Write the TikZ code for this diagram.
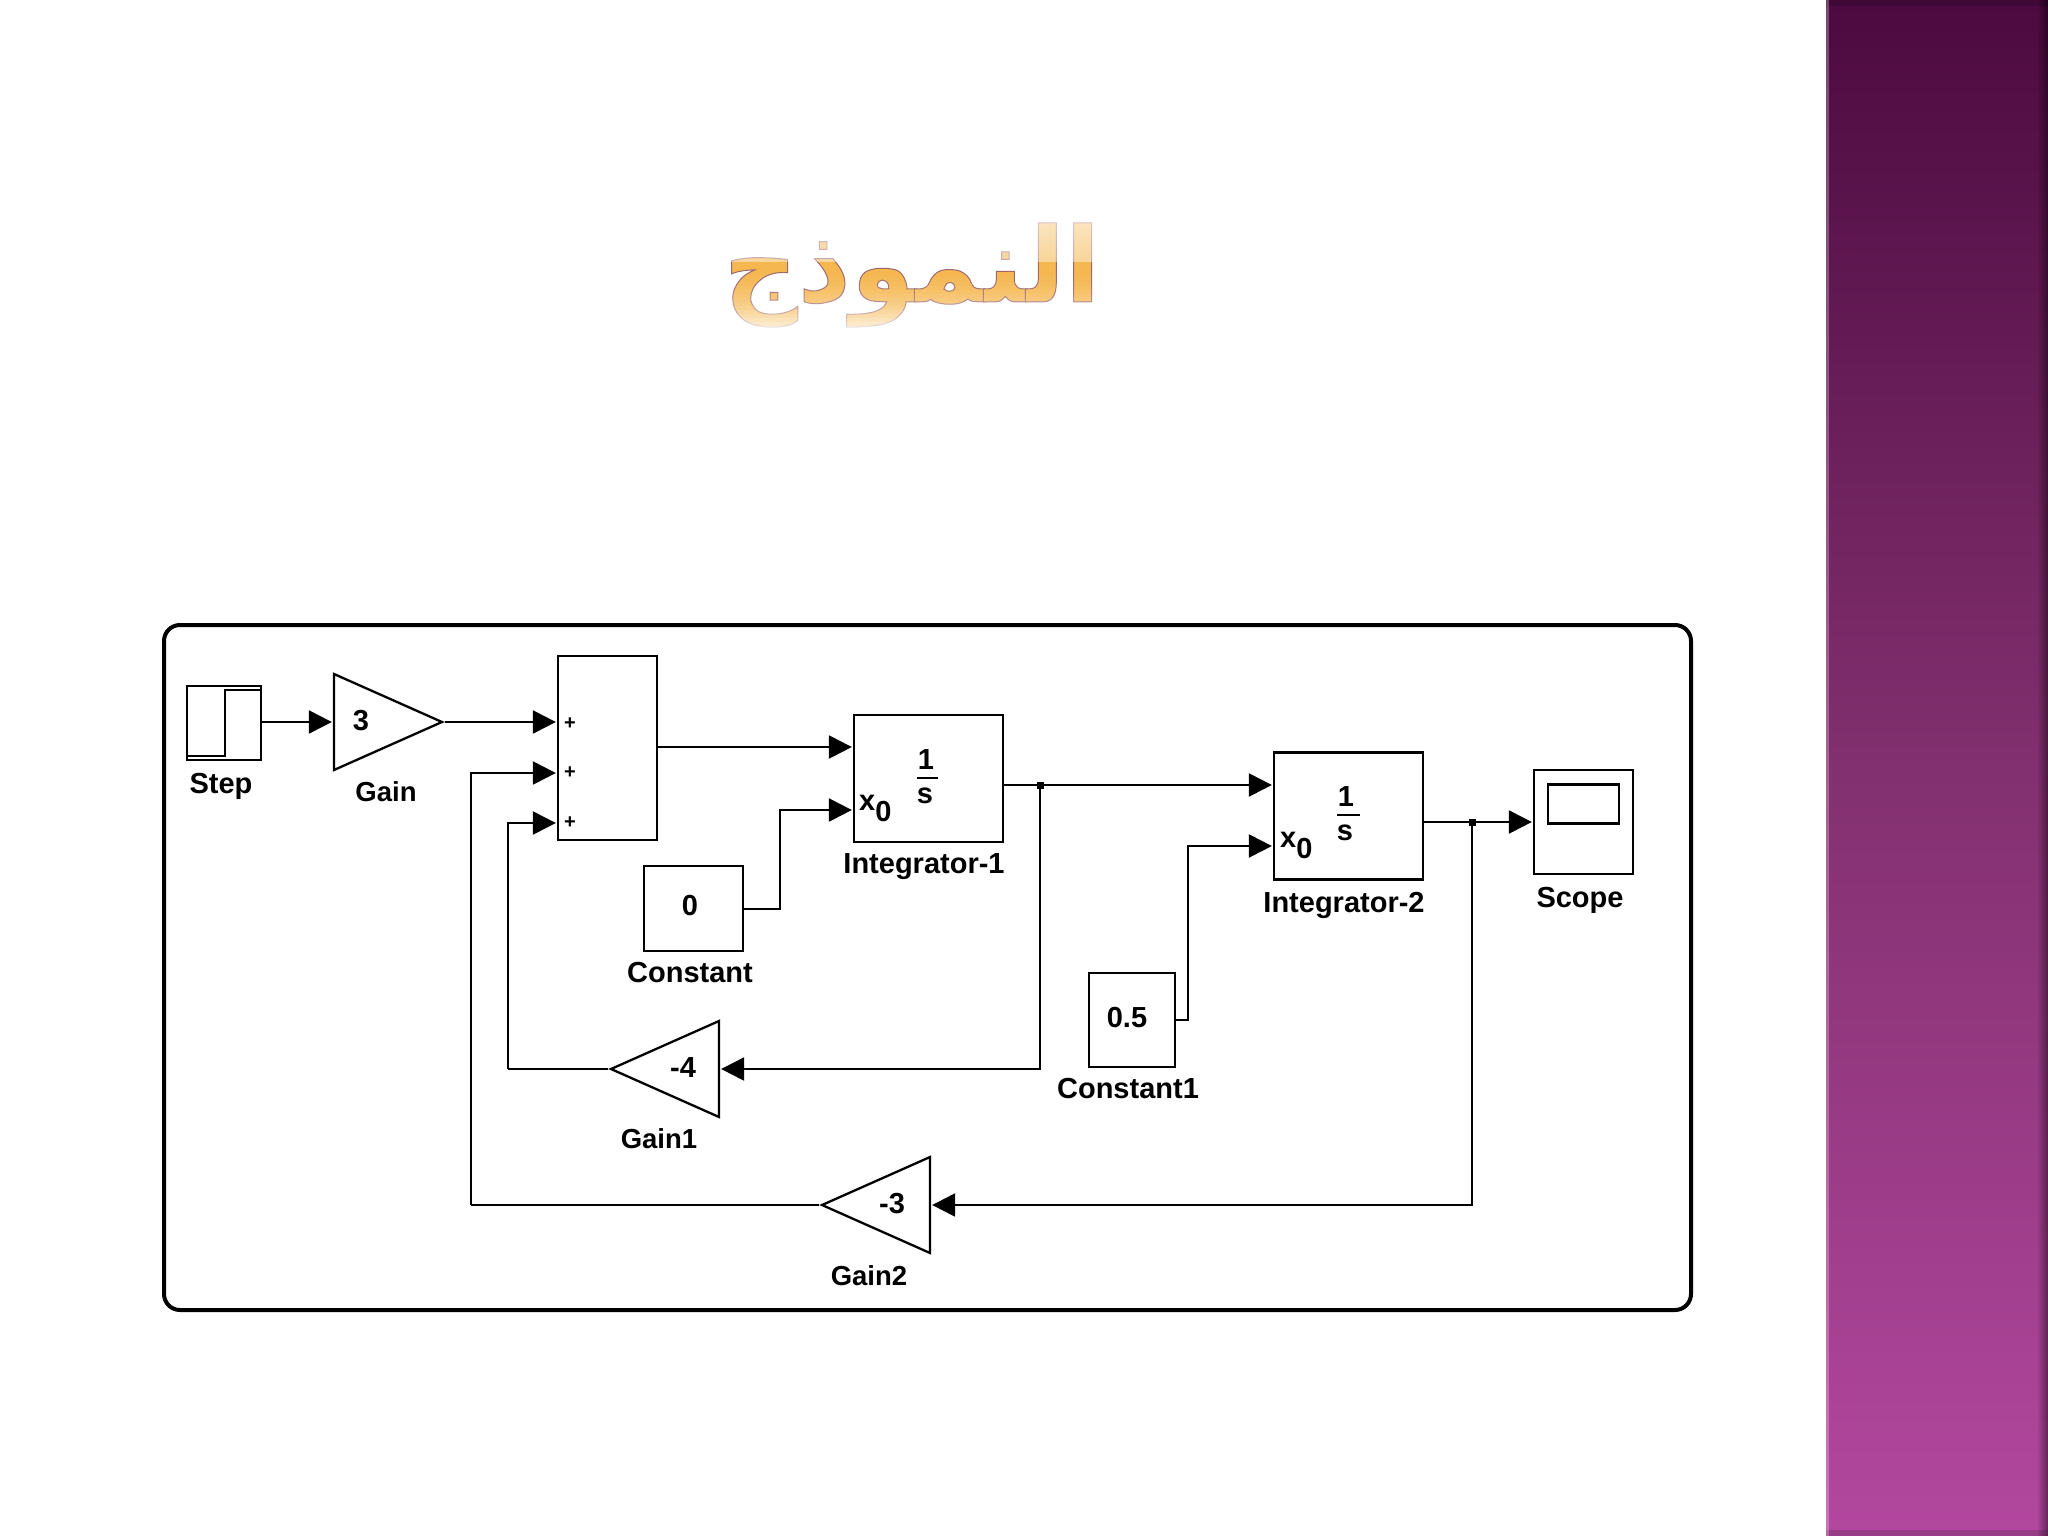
\documentclass[tikz,border=0pt]{standalone}
\usepackage{fontspec}
\setsansfont{Liberation Sans}
\newfontfamily\arabicfont[Script=Arabic]{DejaVu Sans}
\TeXXeTstate=1
\usetikzlibrary{arrows.meta,shapes.geometric,calc}
\definecolor{bandtop}{HTML}{4C0A40}
\definecolor{bandmid}{HTML}{82306F}
\definecolor{bandbot}{HTML}{B3479F}
\definecolor{titleorange}{HTML}{F5B750}
\newcommand{\xzero}{x\raisebox{-11pt}{0}}
\tikzset{
  x=1pt,y=-1pt,
  wire/.style={line width=2.3pt,black},
  arrowwire/.style={wire,shorten >=1pt,-{Triangle[length=23pt,width=23pt]}},
  block/.style={draw=black,line width=2.3pt,rectangle,inner sep=0pt,fill=white},
  gaintri/.style={draw=black,line width=2.3pt,isosceles triangle,isosceles triangle stretches,inner sep=0pt,anchor=apex},
  lbl/.style={font=\sffamily\bfseries\fontsize{29}{29}\selectfont,inner sep=0pt,text=black},
  glbl/.style={font=\sffamily\bfseries\fontsize{27.5}{27.5}\selectfont,inner sep=0pt,text=black},
  val/.style={font=\sffamily\bfseries\fontsize{29}{29}\selectfont,inner sep=0pt,text=black},
  plus/.style={font=\sffamily\bfseries\fontsize{20}{20}\selectfont,inner sep=0pt},
  dot/.style={fill=black,rectangle,inner sep=0pt,minimum size=7pt},
  barline/.style={line width=2.3pt,black}
}
\begin{document}
\begin{tikzpicture}
\useasboundingbox (0,0) rectangle (2048,1536);
\fill[white] (0,0) rectangle (2048,1536);
% side band
\shade[top color=bandtop,bottom color=bandmid] (1826,0) rectangle (2048,768);
\shade[top color=bandmid,bottom color=bandbot] (1826,768) rectangle (2048,1536);
\foreach \i in {0,...,9}
  \fill[black,fill opacity={0.04*\i+0.05}] (2038+\i,0) rectangle (2039+\i,1536);
\fill[black,fill opacity=.15] (1826,0) rectangle (2048,6);
\fill[black,fill opacity=.15] (1826,1530) rectangle (2048,1536);
\fill[white,fill opacity=.25] (1826,0) rectangle (1829,1536);
% title
\node[inner sep=0pt,anchor=center,text=titleorange] (title) at (912,275)
  {\scalebox{0.99}[1]{\arabicfont\bfseries\fontsize{104}{104}\selectfont\special{pdf:code 2 Tr 1 w 0.62 0.4 0.42 RG}\beginR النموذج\endR\special{pdf:code 0 Tr}}};
\foreach \y/\o in {222/.62,226/.60,230/.58,234/.56,238/.54,242/.52,246/.50,250/.48,254/.46,258/.44}
  \fill[white,fill opacity=\o] (720,\y) rectangle (1110,\y+4);
\foreach \i in {0,...,16}
  \fill[white,fill opacity={(\i/16)*(\i/16)*0.8}] (720,262+4*\i) rectangle (1110,266+4*\i);
% frame
\draw[line width=4pt,rounded corners=16pt,black] (164,625) rectangle (1691,1310);
% blocks
\node[block,minimum width=74pt,minimum height=74pt] (step) at (224,723) {};
\draw[barline] ($(step.south west)+(0,-5)$) -| ($(step.north)+(1,5)$) -- ($(step.north east)+(0,5)$);
\node[gaintri,shape border rotate=0,minimum height=108pt,minimum width=96pt] (gain) at (445,722) {};
\node[val] (gainv) at (361,721) {3};
\node[block,minimum width=99pt,minimum height=184pt] (sum) at (607.5,748) {};
\node[plus] (p1) at (570,724) {+};
\node[plus] (p2) at (570,773) {+};
\node[plus] (p3) at (570,823) {+};
\node[block,minimum width=149pt,minimum height=127pt] (int1) at (928.5,778.5) {};
\node[block,minimum width=149pt,minimum height=127pt] (int2) at (1348.5,816) {};
\node[block,minimum width=99pt,minimum height=104pt] (scope) at (1583.5,822) {};
\node[block,minimum width=71pt,minimum height=39pt] (screen) at (1583.5,804) {};
\node[block,minimum width=99pt,minimum height=85pt] (const) at (693.5,908.5) {};
\node[block,minimum width=86pt,minimum height=94pt] (const1) at (1132,1020) {};
\node[val] (constv) at (690,906) {0};
\node[val] (const1v) at (1127,1018) {0.5};
\node[gaintri,shape border rotate=180,minimum height=108pt,minimum width=96pt] (gain1) at (608,1069) {};
\node[val] (gain1v) at (683,1068) {-4};
\node[gaintri,shape border rotate=180,minimum height=108pt,minimum width=96pt] (gain2) at (819,1205) {};
\node[val] (gain2v) at (892,1204) {-3};
% integrator contents
\node[val] (i1a) at (926,760) {1};
\node[val] (i1b) at (925,796) {s};
\draw[barline] (917,778) -- (938,778);
\node[val,anchor=base west] (i1x) at (859,810) {\xzero};
\node[val] (i2a) at (1346,797) {1};
\node[val] (i2b) at (1345,833) {s};
\draw[barline] (1337,815) -- (1360,815);
\node[val,anchor=base west] (i2x) at (1280,847) {\xzero};
% labels
\node[lbl] (lstep) at (221,786) {Step};
\node[glbl] (lgain) at (386,792) {Gain};
\node[lbl] (lint1) at (924,867) {Integrator-1};
\node[lbl] (lconst) at (690,973) {Constant};
\node[lbl] (lint2) at (1344,905) {Integrator-2};
\node[lbl] (lconst1) at (1128,1089) {Constant1};
\node[lbl] (lscope) at (1580,900) {Scope};
\node[glbl] (lgain1) at (659,1139) {Gain1};
\node[glbl] (lgain2) at (869,1276) {Gain2};
% junctions
\coordinate (j1) at (1040,785);
\coordinate (j2) at (1472,822);
\node[dot] (d1) at (j1) {};
\node[dot] (d2) at (j2) {};
% connectors
\draw[arrowwire] (step.east |- 0,722) -- (gain.west |- 0,722);
\draw[arrowwire] (gain.apex) -- (sum.west |- gain.apex);
\draw[arrowwire] (sum.east |- 0,747) -- (int1.west |- 0,747);
\draw[arrowwire] (const.east |- 0,909) -- (780,909) |- (int1.west |- 0,810);
\draw[arrowwire] (int1.east |- d1) -- (int2.west |- d1);
\draw[arrowwire] (const1.east |- 0,1020) -- (1188,1020) |- (int2.west |- 0,846);
\draw[arrowwire] (int2.east |- d2) -- (scope.west |- d2);
\draw[arrowwire] (d1.center) |- (gain1.east |- 0,1069);
\draw[wire] (gain1.apex) -- (508,1069);
\draw[arrowwire] (508,1069) |- (sum.west |- p3);
\draw[arrowwire] (d2.center) |- (gain2.east |- 0,1205);
\draw[wire] (gain2.apex) -- (471,1205);
\draw[arrowwire] (471,1205) |- (sum.west |- p2);
\end{tikzpicture}
\end{document}
